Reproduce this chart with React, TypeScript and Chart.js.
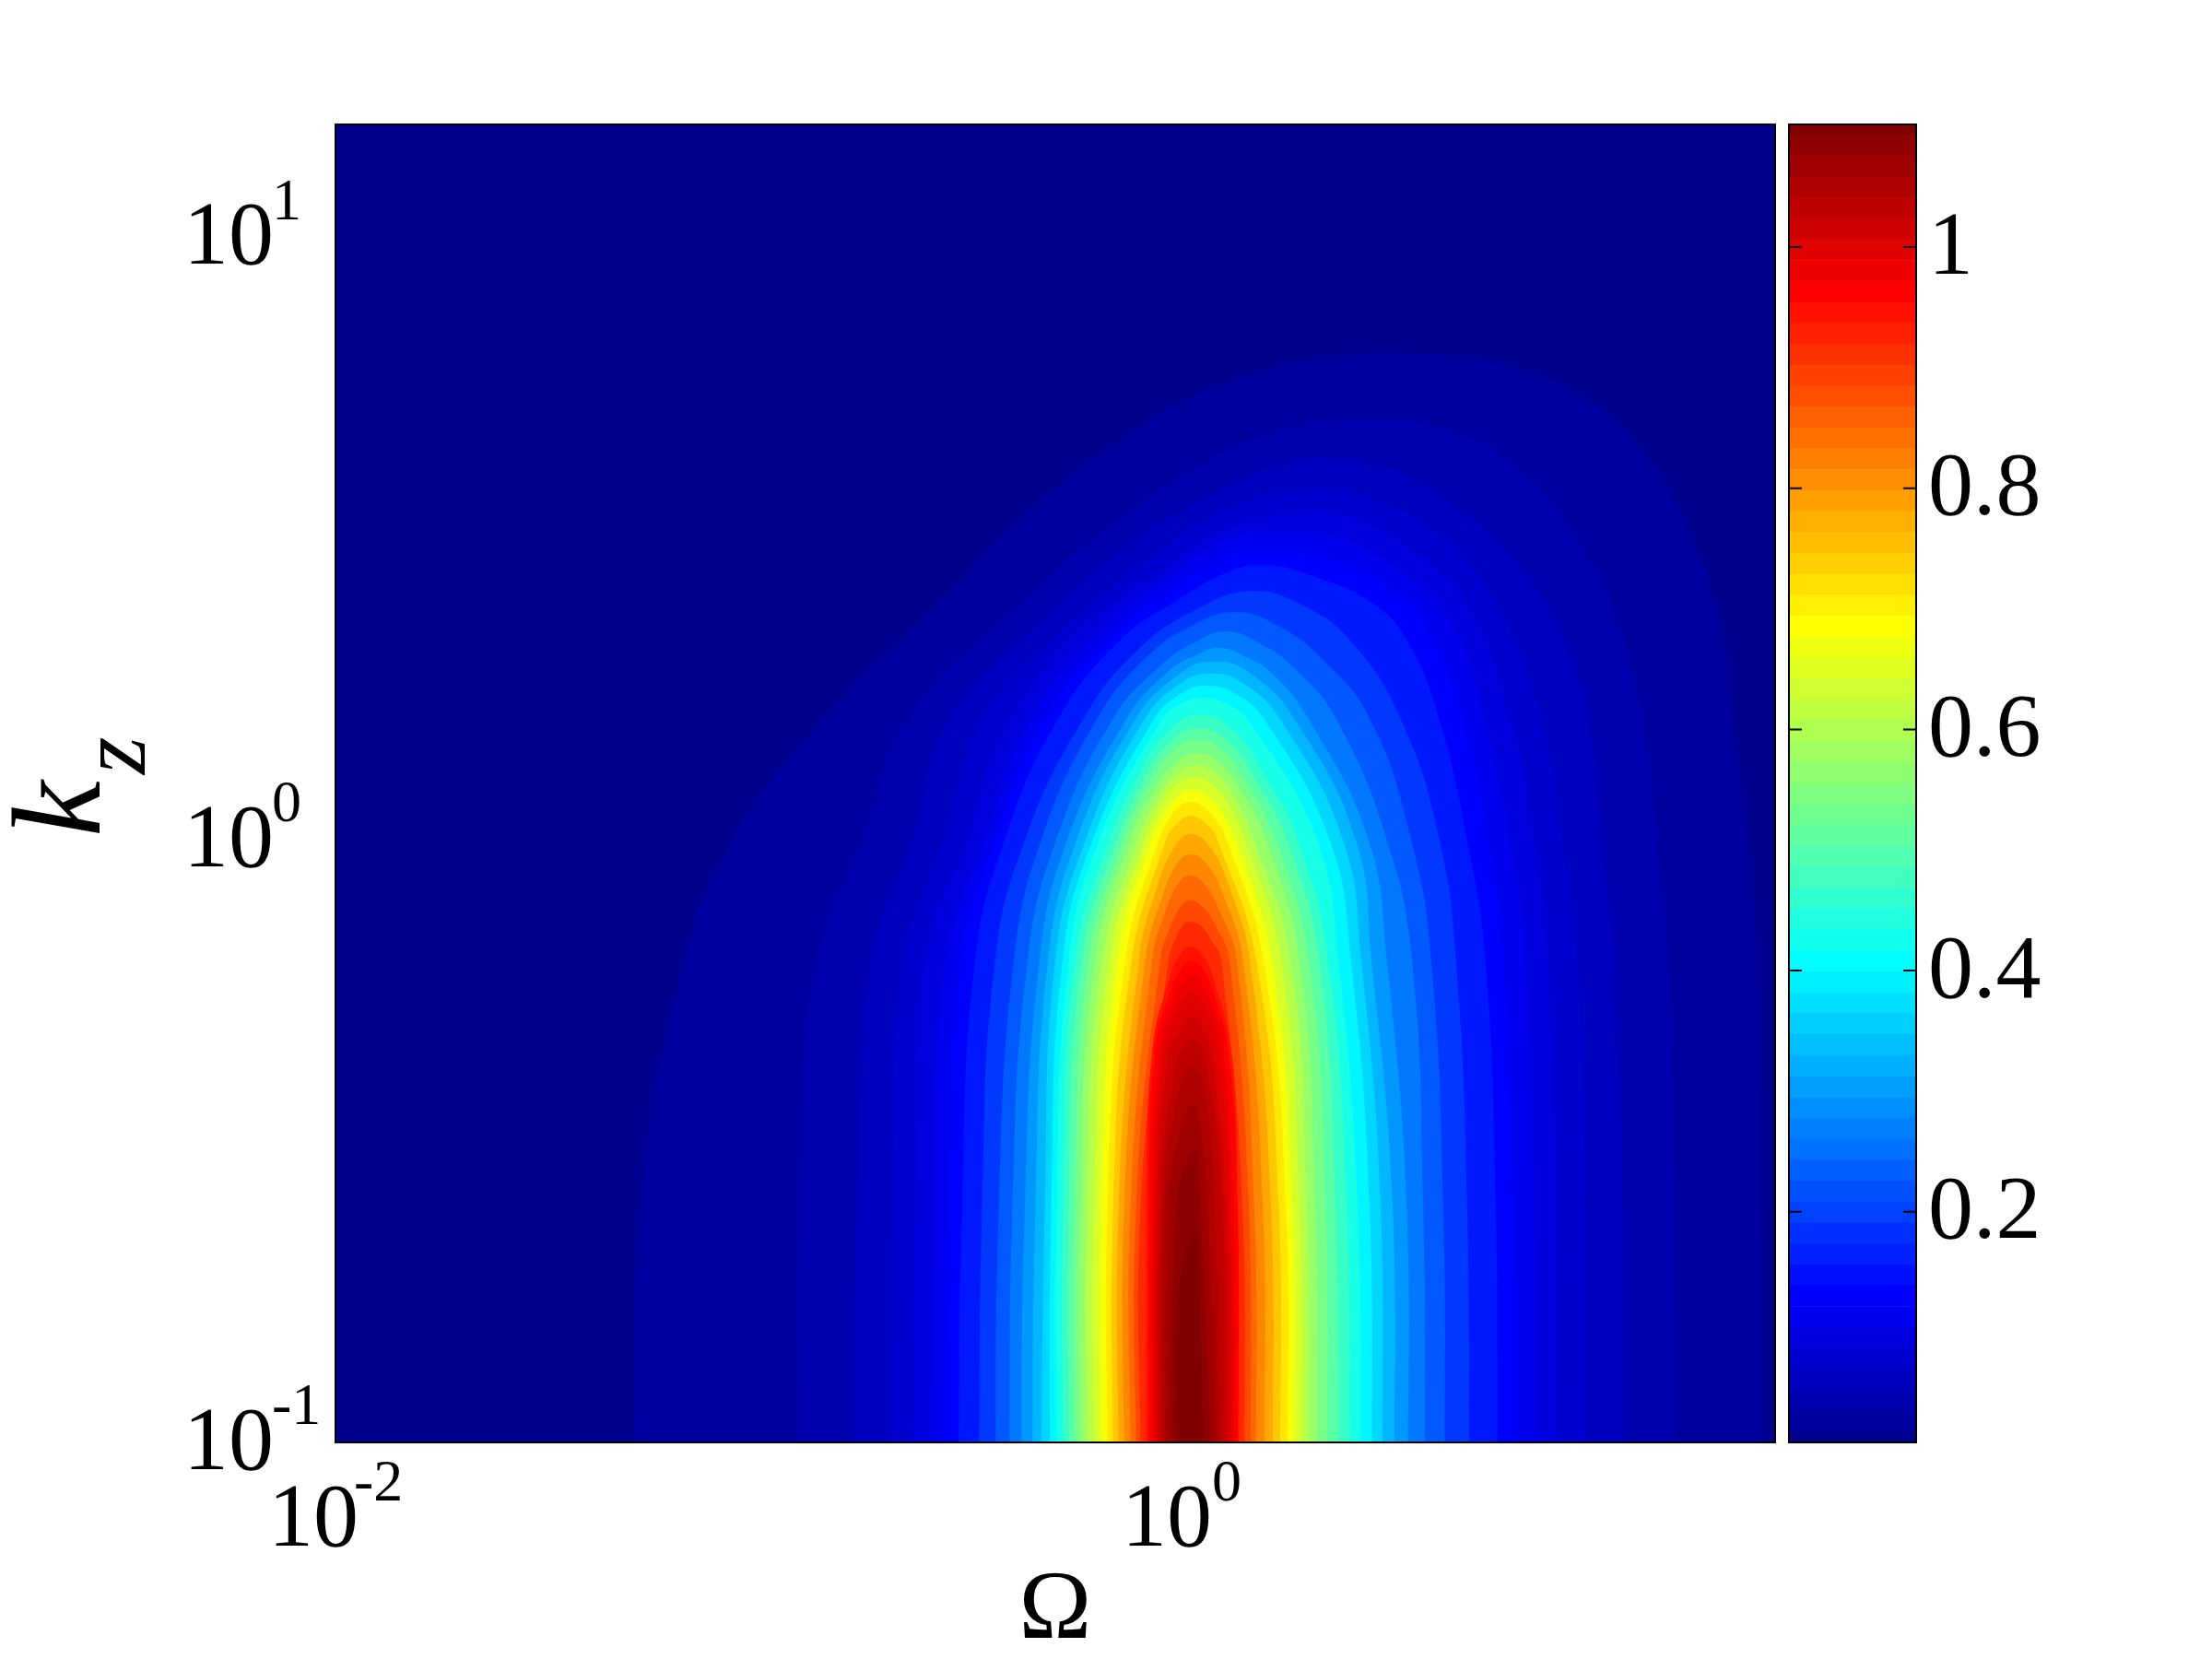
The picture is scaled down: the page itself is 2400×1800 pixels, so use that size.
import React, { useEffect, useRef } from "react";
import { Chart, registerables } from "chart.js";

Chart.register(...registerables);

const FONT = "'Liberation Serif'";

// Axis ranges
const omegaMin = 0.01;
const omegaMax = 23.66;
const kzMin = 0.1;
const kzMax = 15.4;
const colorbarMin = 0.0087;
const colorbarMax = 1.1017;

// Tick values and labels
const xTickValues = [0.01, 1];
const xTickLabels = ["10", "10"];
const xTickExponents = ["-2", "0"];
const yTickValues = [0.1, 1, 10];
const yTickLabels = ["10", "10", "10"];
const yTickExponents = ["-1", "0", "1"];
const colorbarTicks = [0.2, 0.4, 0.6, 0.8, 1];
const colorbarTickLabels = ["0.2", "0.4", "0.6", "0.8", "1"];

// Contour outlines. log10(kz) of the shared rows:
const kzRows = [-1.08, -0.6, -0.2, 0, 0.2];

// For each contour: log10(Omega) on the left flank at kzRows, the [log10 Omega, log10 kz] cap, log10(Omega) on the right flank at kzRows.
const c01L = [-1.3, -1.285, -1.184, -1.069, -0.857];
const c01C = [[-0.572, 0.404], [-0.389, 0.537], [-0.095, 0.695], [0.125, 0.767], [0.346, 0.802], [0.492, 0.808], [0.713, 0.793], [0.896, 0.747], [1.043, 0.664], [1.173, 0.511], [1.246, 0.358]];
const c01R = [1.346, 1.341, 1.333, 1.309, 1.274];
const c02L = [-0.914, -0.914, -0.873, -0.765, -0.659];
const c02C = [[-0.389, 0.395], [-0.205, 0.507], [0.035, 0.625], [0.218, 0.68], [0.402, 0.7], [0.585, 0.686], [0.769, 0.618], [0.916, 0.492], [1.006, 0.358]];
const c02R = [1.143, 1.14, 1.123, 1.097, 1.063];
const c03L = [-0.786, -0.778, -0.747, -0.648, -0.562];
const c03C = [[-0.315, 0.384], [-0.132, 0.496], [0.071, 0.579], [0.218, 0.625], [0.328, 0.634], [0.456, 0.618], [0.622, 0.557], [0.786, 0.446], [0.879, 0.334]];
const c03R = [1.019, 1.017, 0.998, 0.968, 0.937];
const c04L = [-0.702, -0.695, -0.67, -0.572, -0.486];
const c04C = [[-0.279, 0.358], [-0.095, 0.465], [0.089, 0.548], [0.281, 0.583], [0.419, 0.568], [0.585, 0.507], [0.713, 0.404]];
const c04R = [0.931, 0.929, 0.911, 0.875, 0.827];
const c05L = [-0.648, -0.641, -0.618, -0.518, -0.417];
const c05C = [[-0.242, 0.354], [-0.076, 0.441], [0.108, 0.522], [0.255, 0.542], [0.382, 0.533], [0.529, 0.476], [0.659, 0.38]];
const c05R = [0.862, 0.86, 0.842, 0.808, 0.752];
const c06L = [-0.605, -0.596, -0.57, -0.479, -0.371];
const c06C = [[-0.205, 0.349], [-0.058, 0.43], [0.089, 0.496], [0.218, 0.511], [0.365, 0.496], [0.512, 0.435], [0.622, 0.349]];
const c06R = [0.812, 0.808, 0.788, 0.752, 0.691];
const c07L = [-0.57, -0.562, -0.536, -0.454, -0.339];
const c07C = [[-0.184, 0.339], [-0.043, 0.415], [0.086, 0.469], [0.199, 0.482], [0.324, 0.467], [0.475, 0.415], [0.572, 0.331]];
const c07R = [0.765, 0.76, 0.737, 0.702, 0.641];
const c08L = [-0.54, -0.531, -0.501, -0.432, -0.307];
const c08C = [[-0.162, 0.331], [-0.022, 0.4], [0.086, 0.443], [0.173, 0.456], [0.281, 0.44], [0.432, 0.392], [0.518, 0.323]];
const c08R = [0.724, 0.719, 0.695, 0.652, 0.587];
const c10L = [-0.492, -0.484, -0.454, -0.384, -0.248];
const c10C = [[-0.119, 0.316], [0.022, 0.384], [0.145, 0.413], [0.259, 0.392], [0.378, 0.331]];
const c10R = [0.657, 0.652, 0.626, 0.587, 0.497];
const c12L = [-0.454, -0.445, -0.41, -0.346, -0.216];
const c12C = [[-0.097, 0.305], [0.011, 0.357], [0.108, 0.378], [0.205, 0.357], [0.313, 0.3]];
const c12R = [0.6, 0.596, 0.568, 0.521, 0.425];
const c14L = [-0.421, -0.413, -0.378, -0.311, -0.179];
const c14C = [[-0.065, 0.29], [0.017, 0.329], [0.086, 0.346], [0.162, 0.328], [0.248, 0.285]];
const c14R = [0.553, 0.549, 0.523, 0.464, 0.346];
const c16L = [-0.393, -0.384, -0.35, -0.285, -0.147];
const c16C = [[-0.048, 0.28], [0.022, 0.308], [0.071, 0.319], [0.13, 0.305], [0.194, 0.277]];
const c16R = [0.514, 0.51, 0.464, 0.421, 0.281];
const c18L = [-0.367, -0.359, -0.33, -0.263, -0.125];
const c18C = [[-0.019, 0.277], [0.06, 0.296], [0.143, 0.277]];
const c18R = [0.482, 0.477, 0.428, 0.391, 0.248];
const c20L = [-0.346, -0.337, -0.313, -0.242, -0.104];
const c20C = [[-0.017, 0.261], [0.052, 0.276], [0.125, 0.261]];
const c20R = [0.454, 0.449, 0.404, 0.361, 0.214];
const c22L = [-0.326, -0.322, -0.296, -0.225, -0.082];
const c22C = [[-0.015, 0.244], [0.043, 0.256], [0.106, 0.244]];
const c22R = [0.43, 0.423, 0.38, 0.33, 0.177];
const c24L = [-0.309, -0.309, -0.281, -0.21, -0.063];
const c24C = [[-0.015, 0.227], [0.032, 0.236], [0.084, 0.227]];
const c24R = [0.404, 0.395, 0.35, 0.3, 0.138];
const c26L = [-0.294, -0.294, -0.266, -0.186];
const c26C = [[-0.117, 0.109], [-0.052, 0.178], [0.028, 0.208], [0.11, 0.178], [0.175, 0.109]];
const c26R = [0.378, 0.369, 0.326, 0.255];
const c28L = [-0.281, -0.281, -0.251, -0.168];
const c28C = [[-0.104, 0.101], [-0.043, 0.163], [0.024, 0.186], [0.093, 0.163], [0.156, 0.101]];
const c28R = [0.352, 0.343, 0.305, 0.229];
const c30L = [-0.266, -0.266, -0.235, -0.153];
const c30C = [[-0.093, 0.094], [-0.037, 0.147], [0.022, 0.166], [0.08, 0.147], [0.136, 0.094]];
const c30R = [0.326, 0.32, 0.281, 0.203];
const c32L = [-0.253, -0.253, -0.22, -0.138];
const c32C = [[-0.084, 0.078], [-0.032, 0.127], [0.022, 0.144], [0.073, 0.127], [0.125, 0.078]];
const c32R = [0.302, 0.296, 0.259, 0.181];
const c34L = [-0.238, -0.238, -0.203, -0.119];
const c34C = [[-0.076, 0.066], [-0.03, 0.109], [0.017, 0.124], [0.065, 0.109], [0.11, 0.066]];
const c34R = [0.283, 0.276, 0.238, 0.153];
const c36L = [-0.222, -0.222, -0.186, -0.104];
const c36C = [[-0.067, 0.056], [-0.03, 0.091], [0.013, 0.104], [0.056, 0.091], [0.095, 0.056]];
const c36R = [0.266, 0.259, 0.216, 0.132];
const c38L = [-0.205, -0.205, -0.168, -0.089];
const c38C = [[-0.056, 0.045], [-0.026, 0.072], [0.009, 0.083], [0.045, 0.072], [0.078, 0.045]];
const c38R = [0.248, 0.242, 0.194, 0.11];
const c40L = [-0.19, -0.19, -0.149, -0.071];
const c40C = [[-0.045, 0.036], [-0.022, 0.056], [0.004, 0.063], [0.032, 0.056], [0.06, 0.036]];
const c40R = [0.231, 0.227, 0.175, 0.089];
const c42L = [-0.177, -0.177, -0.134, -0.054];
const c42C = [[-0.03, 0.025], [0.004, 0.04], [0.043, 0.025]];
const c42R = [0.214, 0.21, 0.158, 0.067];
const c44L = [-0.164, -0.164, -0.117];
const c44C = [[-0.073, -0.075], [-0.032, -0.01], [0.004, 0.01], [0.048, -0.01], [0.093, -0.075]];
const c44R = [0.197, 0.192, 0.143];
const c46L = [-0.151, -0.151, -0.102];
const c46C = [[-0.06, -0.09], [-0.024, -0.036], [0.004, -0.024], [0.037, -0.036], [0.08, -0.09]];
const c46R = [0.177, 0.173, 0.127];
const c48L = [-0.136, -0.136, -0.086];
const c48C = [[-0.052, -0.113], [-0.022, -0.07], [0.002, -0.059], [0.032, -0.07], [0.069, -0.113]];
const c48R = [0.158, 0.153, 0.112];
const c50L = [-0.123, -0.123, -0.067];
const c50C = [[-0.043, -0.143], [-0.019, -0.111], [0.002, -0.101], [0.032, -0.111], [0.063, -0.143]];
const c50R = [0.145, 0.14, 0.095];
const c52L = [-0.112, -0.112, -0.048];
const c52C = [[-0.032, -0.166], [-0.015, -0.143], [0.002, -0.136], [0.028, -0.143], [0.052, -0.166]];
const c52R = [0.13, 0.125, 0.076];
const c54L = [-0.099, -0.099];
const c54C = [[-0.086, -0.353], [-0.045, -0.227], [-0.019, -0.189], [0.004, -0.177], [0.03, -0.189], [0.056, -0.227], [0.099, -0.353]];
const c54R = [0.119, 0.114];
const c55L = [-0.093, -0.093];
const c55C = [[-0.08, -0.353], [-0.043, -0.25], [-0.017, -0.212], [0.006, -0.2], [0.03, -0.212], [0.056, -0.25], [0.093, -0.353]];
const c55R = [0.114, 0.114];
const c56L = [-0.086, -0.086];
const c56C = [[-0.071, -0.353], [-0.041, -0.273], [-0.015, -0.235], [0.006, -0.224], [0.028, -0.235], [0.054, -0.273], [0.082, -0.353]];
const c56R = [0.108, 0.104];
const c57L = [-0.08, -0.08];
const c57C = [[-0.06, -0.353], [-0.037, -0.296], [0.009, -0.255], [0.048, -0.296], [0.069, -0.353]];
const c57R = [0.102, 0.097];
const c58L = [-0.073, -0.073];
const c58C = [[-0.048, -0.353], [-0.022, -0.319], [0.009, -0.293], [0.035, -0.319], [0.054, -0.353]];
const c58R = [0.093, 0.086];
const c59L = [-0.067, -0.065];
const c59C = [[-0.032, -0.38], [0.011, -0.33], [0.043, -0.38]];
const c59R = [0.086, 0.078];
const c60L = [-0.058, -0.058];
const c60C = [[-0.026, -0.426], [0.011, -0.376], [0.039, -0.426]];
const c60R = [0.078, 0.06];
const c61L = [-0.052, -0.048];
const c61C = [[-0.028, -0.503], [0.011, -0.437], [0.032, -0.503]];
const c61R = [0.069, 0.043];
const c62L = [-0.041, -0.028];
const c62C = [[0.013, -0.518]];
const c62R = [0.056, 0.026];
const c63L = [-0.028];
const c63C = [[-0.022, -0.74], [0.015, -0.648], [0.024, -0.74]];
const c63R = [0.037];

// [colormap index shown inside the contour, left, cap, right]
const contours: [number, number[], number[][], number[]][] = [
  [2, c01L, c01C, c01R], [3, c02L, c02C, c02R], [4, c03L, c03C, c03R], [5, c04L, c04C, c04R],
  [6, c05L, c05C, c05R], [7, c06L, c06C, c06R], [8, c07L, c07C, c07R], [9.5, c08L, c08C, c08R],
  [11.5, c10L, c10C, c10R], [13.5, c12L, c12C, c12R], [15.5, c14L, c14C, c14R], [17.5, c16L, c16C, c16R],
  [19.5, c18L, c18C, c18R], [21.5, c20L, c20C, c20R], [23.5, c22L, c22C, c22R], [25.5, c24L, c24C, c24R],
  [27.5, c26L, c26C, c26R], [29.5, c28L, c28C, c28R], [31.5, c30L, c30C, c30R], [33.5, c32L, c32C, c32R],
  [35.5, c34L, c34C, c34R], [37.5, c36L, c36C, c36R], [39.5, c38L, c38C, c38R], [41.5, c40L, c40C, c40R],
  [43.5, c42L, c42C, c42R], [45.5, c44L, c44C, c44R], [47.5, c46L, c46C, c46R], [49.5, c48L, c48C, c48R],
  [51.5, c50L, c50C, c50R], [53.5, c52L, c52C, c52R], [55, c54L, c54C, c54R], [56, c55L, c55C, c55R],
  [57, c56L, c56C, c56R], [58, c57L, c57C, c57R], [59, c58L, c58C, c58R], [60, c59L, c59C, c59R],
  [61, c60L, c60C, c60R], [62, c61L, c61C, c61R], [63, c62L, c62C, c62R], [64, c63L, c63C, c63R],
];

function jet(i: number): string {
  let r = 0, g = 0, b = 0;
  if (i <= 8) b = 0.5 + i / 16;
  else if (i <= 24) { g = (i - 8) / 16; b = 1; }
  else if (i <= 40) { r = (i - 24) / 16; g = 1; b = 1 - (i - 24) / 16; }
  else if (i <= 56) { r = 1; g = 1 - (i - 40) / 16; }
  else r = 1 - (i - 56) / 16;
  return `rgb(${Math.round(r * 255)},${Math.round(g * 255)},${Math.round(b * 255)})`;
}

function outline(left: number[], cap: number[][], right: number[]) {
  const pts: { x: number; y: number }[] = [];
  left.forEach((lx, i) => pts.push({ x: 10 ** lx, y: 10 ** kzRows[i] }));
  cap.forEach(([lx, ly]) => pts.push({ x: 10 ** lx, y: 10 ** ly }));
  for (let i = right.length - 1; i >= 0; i--) pts.push({ x: 10 ** right[i], y: 10 ** kzRows[i] });
  return pts;
}

const framePlugin = {
  id: "frame",
  afterDraw(chart: any) {
    const { ctx, chartArea: a } = chart;
    ctx.save();
    ctx.strokeStyle = "#000";
    ctx.lineWidth = 2;
    ctx.strokeRect(a.left, a.top, a.right - a.left, a.bottom - a.top);
    ctx.restore();
  },
};

const textPlugin = {
  id: "axisText",
  afterDraw(chart: any) {
    const { ctx, scales } = chart;
    const rotated = (t: string, x: number, y: number, size: number) => {
      ctx.save();
      ctx.translate(x, y);
      ctx.rotate(-Math.PI / 2);
      ctx.font = `italic ${size}px ${FONT}`;
      ctx.fillStyle = "#000";
      ctx.textAlign = "left";
      ctx.textBaseline = "alphabetic";
      ctx.fillText(t, 0, 0);
      ctx.restore();
    };
    rotated("k", 108, 908, 137);
    rotated("z", 157, 840, 104);

    ctx.save();
    ctx.font = `64px ${FONT}`;
    ctx.fillStyle = "#000";
    ctx.textAlign = "left";
    ctx.textBaseline = "alphabetic";
    xTickValues.forEach((v, i) => {
      const e = xTickExponents[i];
      const px = scales.x.getPixelForValue(v) + (e.startsWith("-") ? 20 : 25);
      ctx.fillText(e, px, scales.x.top + 63);
    });
    yTickValues.forEach((v, i) => {
      ctx.fillText(yTickExponents[i], scales.y.left + 96, scales.y.getPixelForValue(v) - 20);
    });
    ctx.restore();
  },
};

const barTicksPlugin = {
  id: "barTicks",
  afterDraw(chart: any) {
    const { ctx, chartArea: a, scales } = chart;
    ctx.save();
    ctx.strokeStyle = "#000";
    ctx.lineWidth = 2;
    colorbarTicks.forEach((v) => {
      const y = scales.y.getPixelForValue(v);
      ctx.beginPath();
      ctx.moveTo(a.left, y);
      ctx.lineTo(a.left + 14, y);
      ctx.moveTo(a.right, y);
      ctx.lineTo(a.right - 14, y);
      ctx.stroke();
    });
    ctx.restore();
  },
};

export default function App() {
  const mainRef = useRef<HTMLCanvasElement>(null);
  const barRef = useRef<HTMLCanvasElement>(null);

  useEffect(() => {
    const common = { borderWidth: 0, pointRadius: 0, showLine: true, fill: "shape", capBezierPoints: false };
    const filled = contours.map(([idx, l, c, r]) => ({
      ...common,
      data: outline(l, c, r),
      backgroundColor: jet(idx),
      borderColor: "transparent",
      tension: 0.45,
    }));
    const base = {
      ...common,
      data: [
        { x: omegaMin, y: kzMin },
        { x: omegaMin, y: kzMax },
        { x: omegaMax, y: kzMax },
        { x: omegaMax, y: kzMin },
      ],
      backgroundColor: jet(1),
      borderColor: "transparent",
      tension: 0,
    };
    // Chart.js paints the last dataset first, so the lowest contour goes last.
    const datasets = [...filled.reverse(), base];

    const main = new Chart(mainRef.current!, {
      type: "scatter",
      data: { datasets } as any,
      plugins: [framePlugin, textPlugin],
      options: {
        responsive: false,
        animation: false,
        events: [],
        layout: { padding: { left: 199, right: 474, top: 135, bottom: 0 } },
        plugins: { legend: { display: false }, tooltip: { enabled: false } },
        scales: {
          x: {
            type: "logarithmic",
            min: omegaMin,
            max: omegaMax,
            grid: { display: false },
            border: { display: false },
            afterBuildTicks: (s: any) => { s.ticks = xTickValues.map((value) => ({ value })); },
            afterFit: (s: any) => { s.height = 235; },
            ticks: {
              autoSkip: false,
              maxRotation: 0,
              minRotation: 0,
              padding: 29,
              labelOffset: -24,
              color: "#000",
              font: { family: FONT, size: 98, lineHeight: 1 },
              callback: (_v: any, i: number) => xTickLabels[i],
            },
            title: {
              display: true,
              text: "Ω",
              color: "#000",
              font: { family: FONT, size: 106, lineHeight: 0.7 },
              padding: { top: 0, bottom: 14 },
            },
          },
          y: {
            type: "logarithmic",
            min: kzMin,
            max: kzMax,
            grid: { display: false },
            border: { display: false },
            afterBuildTicks: (s: any) => { s.ticks = yTickValues.map((value) => ({ value })); },
            afterFit: (s: any) => { s.width = 165; },
            ticks: {
              autoSkip: false,
              crossAlign: "far",
              padding: 10,
              labelOffset: 3,
              color: "#000",
              font: { family: FONT, size: 98, lineHeight: 1 },
              callback: (_v: any, i: number) => yTickLabels[i],
            },
          },
        },
      } as any,
    });

    const step = (colorbarMax - colorbarMin) / 63;
    const bandIndex = Array.from({ length: 64 }, (_, i) => i + 1);
    const bands = bandIndex.map((i) => ({
      data: [[colorbarMin + (i - 1.5) * step, colorbarMin + (i - 0.5) * step]],
      backgroundColor: jet(i),
      borderWidth: 0,
      categoryPercentage: 1,
      barPercentage: 1,
    }));
    const bar = new Chart(barRef.current!, {
      type: "bar",
      data: { labels: ["colour"], datasets: bands } as any,
      plugins: [barTicksPlugin, framePlugin],
      options: {
        responsive: false,
        animation: false,
        events: [],
        layout: { padding: { left: 1941, right: 0, top: 135, bottom: 235 } },
        plugins: { legend: { display: false }, tooltip: { enabled: false } },
        scales: {
          x: { display: false, stacked: true },
          y: {
            position: "right",
            min: colorbarMin,
            max: colorbarMax,
            grid: { display: false },
            border: { display: false },
            afterBuildTicks: (s: any) => { s.ticks = colorbarTicks.map((value) => ({ value })); },
            afterFit: (s: any) => { s.width = 321; },
            ticks: {
              autoSkip: false,
              padding: 5,
              labelOffset: 3,
              color: "#000",
              font: { family: FONT, size: 98, lineHeight: 1 },
              callback: (_v: any, i: number) => colorbarTickLabels[i],
            },
          },
        },
      } as any,
    });

    return () => {
      main.destroy();
      bar.destroy();
    };
  }, []);

  const style: React.CSSProperties = { position: "fixed", left: 0, top: 0, width: 2400, height: 1800 };
  return (
    <>
      <canvas ref={mainRef} width={2400} height={1800} style={style} />
      <canvas ref={barRef} width={2400} height={1800} style={style} />
    </>
  );
}
